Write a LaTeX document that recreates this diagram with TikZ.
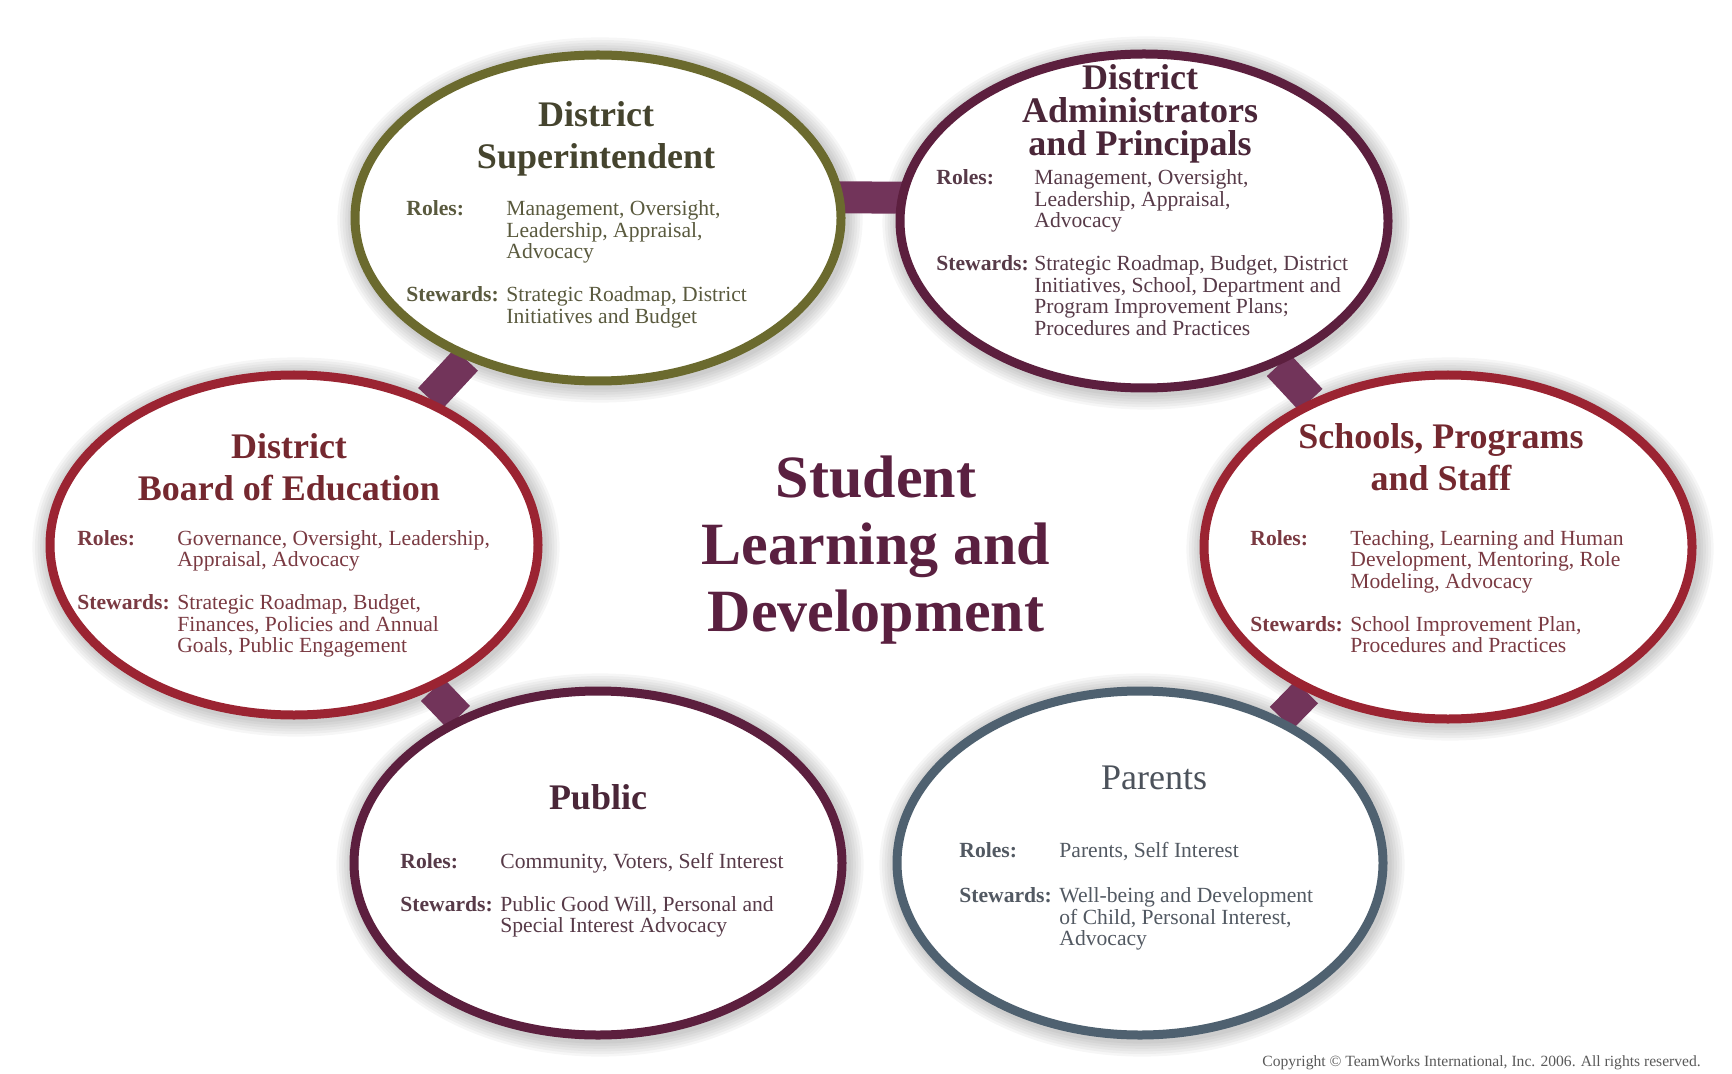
\documentclass[tikz,border=0pt]{standalone}
\usepackage{fontspec}
\setmainfont{Liberation Serif}
\usepackage{tikz}
\usetikzlibrary{shapes.geometric}

\definecolor{olivering}{HTML}{6B6A2E}
\definecolor{olivehead}{HTML}{45442E}
\definecolor{olivetext}{HTML}{5A5A3E}
\definecolor{plumring}{HTML}{5C1F3E}
\definecolor{plumhead}{HTML}{4A2638}
\definecolor{plumtext}{HTML}{573A48}
\definecolor{redring}{HTML}{9B2432}
\definecolor{redhead}{HTML}{74282F}
\definecolor{redtext}{HTML}{7A3A42}
\definecolor{slatering}{HTML}{4F6170}
\definecolor{slatehead}{HTML}{4C525B}
\definecolor{slatetext}{HTML}{525962}
\definecolor{barcol}{HTML}{72345A}
\definecolor{hubtext}{HTML}{5A2040}

\pgfdeclarelayer{halo}
\pgfdeclarelayer{bars}
\pgfsetlayers{halo,bars,main}

\begin{document}
\begin{tikzpicture}[x=0.5pt, y=-0.5pt,
        ring/.style={ellipse, draw=#1, line width=4.5pt, fill=white, inner sep=0pt},
        heading/.style={align=center, font=\fontsize{18}{21}\selectfont\bfseries, text=#1},
        duties/.style={anchor=base west, inner sep=0pt, font=\fontsize{10.8}{10.75}\selectfont, text=#1},
        bar/.style={line width=16pt, draw=barcol}]

    \clip (0,0) rectangle (1732,1074);
    \useasboundingbox (0,0) rectangle (1732,1074);

    % the six rings, each with a soft halo behind it
    \foreach \nm/\cx/\cy/\w/\h/\col in {sup/598/218/243/163/olivering,
            adm/1144/221/244/167/plumring,
            boe/294/545/244/170/redring,
            sch/1448/547/244/172/redring,
            pub/598/863/244/172/plumring,
            par/1140/863/243/172/slatering}{
        \node[ring=\col, minimum width=\w pt, minimum height=\h pt] (\nm) at (\cx,\cy) {};
        \begin{pgfonlayer}{halo}
            \foreach \k in {1,...,6}
                \fill[black, opacity=.035] ([shift={(1pt,-1pt)}]\nm.center)
                    ellipse [x radius={\w/2*1pt+2pt+\k*1.3pt}, y radius={\h/2*1pt+2pt+\k*1.3pt}];
        \end{pgfonlayer}
    }

    % links between neighbouring rings
    \begin{pgfonlayer}{bars}
        \draw[bar] ([yshift=11pt]sup.center) -- ([yshift=11pt]adm.center);
        \draw[bar] (sup) -- (boe);
        \draw[bar] (adm) -- (sch);
        \draw[bar] (boe) -- (pub);
        \draw[bar] (sch) -- (par);
    \end{pgfonlayer}

    % centre
    \node[align=center, font=\fontsize{30}{33.5}\selectfont\bfseries, text=hubtext] (hub) at (876,550)
        {Student\\Learning and\\Development};

    % District Superintendent
    \node[heading=olivehead] (supttl) at (596,139) {District\\Superintendent};
    \node[duties=olivetext] (suptxt) at (406,216) {%
        \begin{tabular}[t]{@{}p{50pt}@{}l@{}}
        \textbf{Roles:} & Management, Oversight,\\
            & Leadership, Appraisal,\\
            & Advocacy\\[10.75pt]
        \textbf{Stewards:} & Strategic Roadmap, District\\
            & Initiatives and Budget
        \end{tabular}};

    % District Administrators and Principals
    \node[heading=plumhead, font=\fontsize{18}{16.5}\selectfont\bfseries] (admttl) at (1140,114)
        {District\\Administrators\\and Principals};
    \node[duties=plumtext] (admtxt) at (936,185) {%
        \begin{tabular}[t]{@{}p{49pt}@{}l@{}}
        \textbf{Roles:} & Management, Oversight,\\
            & Leadership, Appraisal,\\
            & Advocacy\\[10.75pt]
        \textbf{Stewards:} & Strategic Roadmap, Budget, District\\
            & Initiatives, School, Department and\\
            & Program Improvement Plans;\\
            & Procedures and Practices
        \end{tabular}};

    % District Board of Education
    \node[heading=redhead] (boettl) at (289,467) {District\\Board of Education};
    \node[duties=redtext] (boetxt) at (77,545) {%
        \begin{tabular}[t]{@{}p{50pt}@{}l@{}}
        \textbf{Roles:} & Governance, Oversight, Leadership,\\
            & Appraisal, Advocacy\\[10.75pt]
        \textbf{Stewards:} & Strategic Roadmap, Budget,\\
            & Finances, Policies and Annual\\
            & Goals, Public Engagement
        \end{tabular}};

    % Schools, Programs and Staff
    \node[heading=redhead] (schttl) at (1441,457) {Schools, Programs\\and Staff};
    \node[duties=redtext] (schtxt) at (1250,545) {%
        \begin{tabular}[t]{@{}p{50pt}@{}l@{}}
        \textbf{Roles:} & Teaching, Learning and Human\\
            & Development, Mentoring, Role\\
            & Modeling, Advocacy\\[10.75pt]
        \textbf{Stewards:} & School Improvement Plan,\\
            & Procedures and Practices
        \end{tabular}};

    % Public
    \node[heading=plumhead] (pubttl) at (598,797) {Public};
    \node[duties=plumtext] (pubtxt) at (400,868) {%
        \begin{tabular}[t]{@{}p{50pt}@{}l@{}}
        \textbf{Roles:} & Community, Voters, Self Interest\\[10.75pt]
        \textbf{Stewards:} & Public Good Will, Personal and\\
            & Special Interest Advocacy
        \end{tabular}};

    % Parents
    \node[heading=slatehead, font=\fontsize{18}{21}\selectfont] (parttl) at (1154,778) {Parents};
    \node[duties=slatetext] (partxt) at (959,857) {%
        \begin{tabular}[t]{@{}p{50pt}@{}l@{}}
        \textbf{Roles:} & Parents, Self Interest\\[12pt]
        \textbf{Stewards:} & Well-being and Development\\
            & of Child, Personal Interest,\\
            & Advocacy
        \end{tabular}};

    \node[anchor=west, inner sep=0pt, font=\fontsize{7.8}{9}\selectfont, text=black!65] (note) at (1262,1063)
        {Copyright \textcopyright{} TeamWorks International, Inc. 2006. All rights reserved.};
\end{tikzpicture}
\end{document}
